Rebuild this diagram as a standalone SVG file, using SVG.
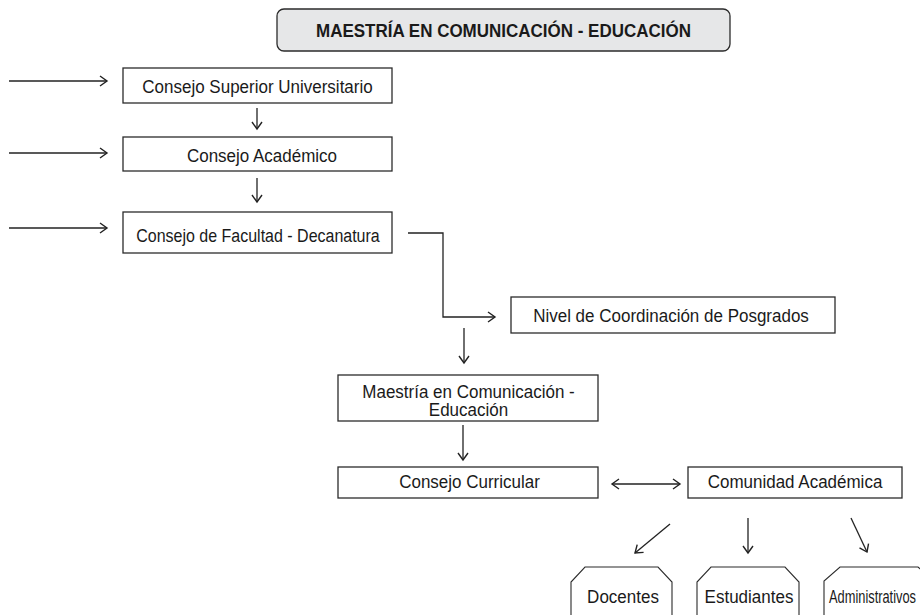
<svg xmlns="http://www.w3.org/2000/svg" width="920" height="615" viewBox="0 0 920 615">
<style>
  .box { fill: #ffffff; stroke: #2b2b2b; stroke-width: 1.3; }
  .title { fill: #e6e7e8; stroke: #2b2b2b; stroke-width: 1.3; }
  .oct { fill: #ffffff; stroke: #2b2b2b; stroke-width: 1.1; }
  .t { font-family: "Liberation Sans", Arial, Helvetica, sans-serif; font-size: 17px; fill: #1a1a1a; text-anchor: middle; }
  .tb { font-family: "Liberation Sans", Arial, Helvetica, sans-serif; font-size: 17px; font-weight: bold; fill: #1a1a1a; text-anchor: middle; }
  .c { fill: none; stroke: #222222; stroke-width: 1.3; }
</style>
<defs>
  <marker id="ah" markerUnits="userSpaceOnUse" markerWidth="12" markerHeight="12" viewBox="-9 -6 10 12" refX="0" refY="0" orient="auto-start-reverse">
    <path d="M-7,-5 L0,0 L-7,5" fill="none" stroke="#222222" stroke-width="1.4"/>
  </marker>
</defs>
<rect width="920" height="615" fill="#ffffff"/>

<g id="title">
  <rect class="title" x="277" y="9" width="453" height="42" rx="7" ry="7"/>
  <text class="tb" transform="translate(503.5 37) scale(1 1.09)">MAESTRÍA EN COMUNICACIÓN - EDUCACIÓN</text>
</g>
<g id="consejo-superior">
  <rect class="box" x="123" y="68" width="269" height="35"/>
  <text class="t" transform="translate(257.5 93) scale(1 1.09)">Consejo Superior Universitario</text>
</g>
<g id="consejo-academico">
  <rect class="box" x="123" y="137" width="269" height="34"/>
  <text class="t" transform="translate(262 162) scale(1 1.09)">Consejo Académico</text>
</g>
<g id="consejo-facultad">
  <rect class="box" x="123" y="212" width="269" height="41"/>
  <text class="t" transform="translate(258 242) scale(1 1.09)" style="font-size:16px">Consejo de Facultad - Decanatura</text>
</g>
<g id="nivel-coordinacion">
  <rect class="box" x="511" y="297" width="324" height="36"/>
  <text class="t" transform="translate(671 322) scale(1 1.09)">Nivel de Coordinación de Posgrados</text>
</g>
<g id="maestria">
  <rect class="box" x="338" y="375" width="260" height="46"/>
  <text class="t" transform="translate(468.5 398) scale(1 1.09)"><tspan x="0" y="0">Maestría en Comunicación -</tspan><tspan x="0" y="16.5">Educación</tspan></text>
</g>
<g id="consejo-curricular">
  <rect class="box" x="338" y="467" width="260" height="31"/>
  <text class="t" transform="translate(469.5 488) scale(1 1.09)">Consejo Curricular</text>
</g>
<g id="comunidad-academica">
  <rect class="box" x="688" y="467" width="214" height="31"/>
  <text class="t" transform="translate(795 488) scale(1 1.09)">Comunidad Académica</text>
</g>
<g id="docentes">
  <path class="oct" d="M571,625 V582 L585,567 H658 L672,582 V625"/>
  <text class="t" transform="translate(623 603) scale(1 1.09)">Docentes</text>
</g>
<g id="estudiantes">
  <path class="oct" d="M697,625 V582 L711,567 H785 L799,582 V625"/>
  <text class="t" transform="translate(749 603) scale(1 1.09)">Estudiantes</text>
</g>
<g id="administrativos">
  <path class="oct" d="M824,625 V581 L840,567 H918 L934,581 V625"/>
  <text class="t" transform="translate(872.5 603) scale(1 1.09)" textLength="87" lengthAdjust="spacingAndGlyphs">Administrativos</text>
</g>

<g id="connectors">
  <line class="c" x1="9" y1="81" x2="107" y2="81" marker-end="url(#ah)"/>
  <line class="c" x1="9" y1="153" x2="107" y2="153" marker-end="url(#ah)"/>
  <line class="c" x1="9" y1="228" x2="107" y2="228" marker-end="url(#ah)"/>
  <line class="c" x1="257" y1="108" x2="257" y2="129" marker-end="url(#ah)"/>
  <line class="c" x1="257" y1="178" x2="257" y2="202" marker-end="url(#ah)"/>
  <polyline class="c" points="408,233 443,233 443,317 495,317" marker-end="url(#ah)"/>
  <line class="c" x1="464" y1="328" x2="464" y2="363" marker-end="url(#ah)"/>
  <line class="c" x1="463" y1="425" x2="463" y2="460" marker-end="url(#ah)"/>
  <line class="c" x1="612" y1="484" x2="680" y2="484" marker-start="url(#ah)" marker-end="url(#ah)"/>
  <line class="c" x1="670" y1="524" x2="635" y2="553" marker-end="url(#ah)"/>
  <line class="c" x1="748" y1="518" x2="748" y2="553" marker-end="url(#ah)"/>
  <line class="c" x1="851" y1="518" x2="867" y2="552" marker-end="url(#ah)"/>
</g>
</svg>
